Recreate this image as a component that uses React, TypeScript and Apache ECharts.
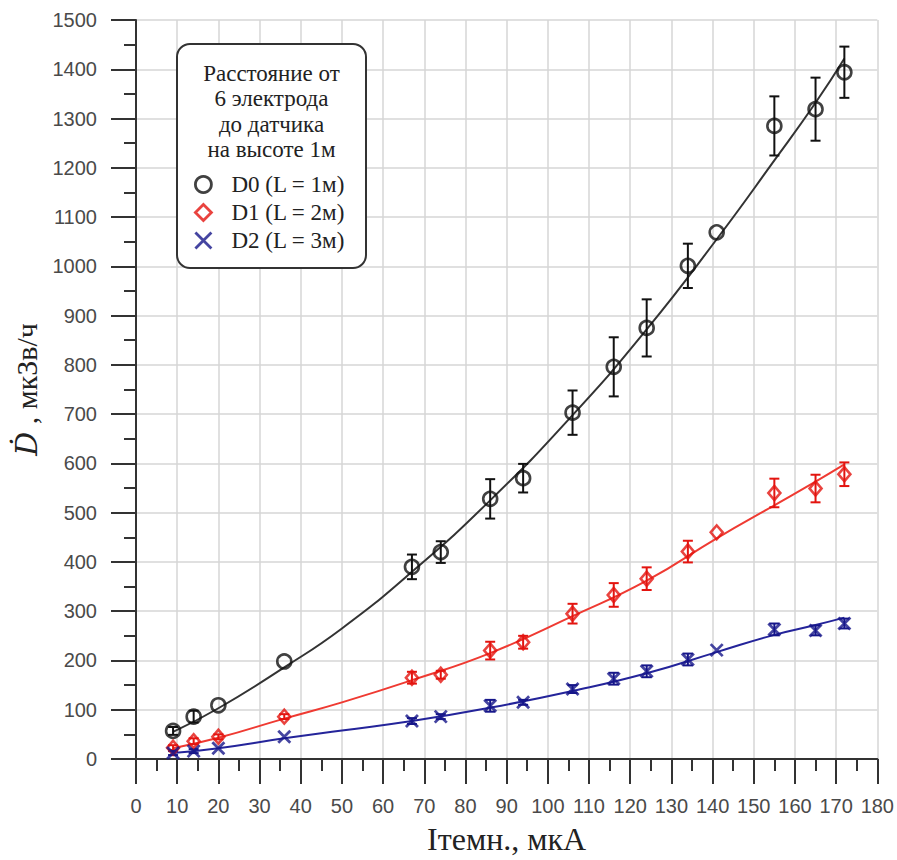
import React, { useEffect, useRef } from "react";
import * as echarts from "echarts";

// Measurement currents (x), мкА
const xValues = [9, 14, 20, 36, 67, 74, 86, 94, 106, 116, 124, 134, 141, 155, 165, 172];
// D0 (L = 1м)
const d0Values = [57, 86, 109, 198, 390, 420, 528, 570, 703, 796, 875, 1001, 1069, 1285, 1319, 1394];
const d0Errors = [8, 12, 0, 0, 25, 22, 40, 29, 45, 60, 58, 45, 0, 60, 64, 52];
// D1 (L = 2м)
const d1Values = [23, 36, 45, 86, 165, 171, 220, 237, 295, 333, 366, 421, 460, 540, 549, 578];
const d1Errors = [5, 6, 5, 5, 12, 8, 18, 13, 20, 24, 23, 22, 0, 29, 28, 24];
// D2 (L = 3м)
const d2Values = [12, 16, 22, 45, 77, 86, 108, 115, 142, 163, 178, 202, 221, 263, 261, 275];
const d2Errors = [4, 4, 0, 0, 6, 5, 12, 5, 8, 12, 12, 12, 0, 12, 10, 10];

// Fitted curves
const fitX = [9, 20, 36, 50, 67, 86, 106, 124, 141, 155, 165, 172];
const fit0 = [55, 103, 186, 265, 380, 525, 698, 872, 1055, 1215, 1332, 1422];
const fit1 = [22, 43, 82, 115, 160, 215, 290, 362, 448, 515, 563, 598];
const fit2 = [12, 22, 42, 58, 77, 104, 138, 174, 217, 252, 272, 287];

const seriesNames = ["D0 (L = 1м)", "D1 (L = 2м)", "D2 (L = 3м)"];
const legendTitle = ["Расстояние от", "6 электрода", "до датчика", "на высоте 1м"];
const xTitle = "Iтемн., мкА";

const BLACK = "#111111";
const RED = "#e3140f";
const BLUE = "#16168a";
const X_PATH = "path://M0,0L10,10M10,0L0,10";

function pairs(xs: number[], ys: number[]) {
  return xs.map((x, i) => [x, ys[i]]);
}
function errData(xs: number[], ys: number[], es: number[]) {
  const out: number[][] = [];
  xs.forEach((x, i) => {
    if (es[i] > 0) out.push([x, ys[i] - es[i], ys[i] + es[i]]);
  });
  return out;
}
function errSeries(data: number[][], color: string, name: string) {
  return {
    type: "custom",
    name,
    data,
    z: 4,
    silent: true,
    renderItem: (params: any, api: any) => {
      const x = api.value(0);
      const top = api.coord([x, api.value(2)]);
      const bot = api.coord([x, api.value(1)]);
      const hw = 5;
      const st = { stroke: color, lineWidth: 2 };
      return {
        type: "group",
        children: [
          { type: "line", shape: { x1: top[0], y1: top[1], x2: bot[0], y2: bot[1] }, style: st },
          { type: "line", shape: { x1: top[0] - hw, y1: top[1], x2: top[0] + hw, y2: top[1] }, style: st },
          { type: "line", shape: { x1: bot[0] - hw, y1: bot[1], x2: bot[0] + hw, y2: bot[1] }, style: st },
        ],
      };
    },
  };
}

export default function App() {
  const ref = useRef<HTMLDivElement>(null);
  useEffect(() => {
    if (!ref.current) return;
    const chart = echarts.init(ref.current, null, { renderer: "svg" });
    const labelFont = { fontFamily: "Liberation Sans, Arial, sans-serif", fontSize: 20, color: "#4a4a4a" };
    const axisLine = { show: true, lineStyle: { color: "#333", width: 2 } };
    const axisTick = { show: true, length: 25, lineStyle: { color: "#333", width: 2 } };
    const minorTick = { show: true, splitNumber: 2, length: 12, lineStyle: { color: "#333", width: 2 } };
    const splitLine = { show: true, lineStyle: { color: "#d6d6d6", width: 1.5 } };
    const plain = (v: number) => String(v);

    chart.setOption({
      animation: false,
      backgroundColor: "#ffffff",
      grid: { left: 136, top: 20, right: 19.5, bottom: 98.3, containLabel: false },
      xAxis: {
        type: "value",
        min: 0,
        max: 180,
        interval: 10,
        axisLine,
        axisTick,
        minorTick,
        splitLine,
        axisLabel: { ...labelFont, margin: 37, formatter: plain },
        name: xTitle,
        nameLocation: "middle",
        nameGap: 64,
        nameTextStyle: { fontFamily: "Liberation Serif, Times New Roman, serif", fontSize: 32, color: "#222" },
      },
      yAxis: {
        type: "value",
        min: 0,
        max: 1500,
        interval: 100,
        axisLine,
        axisTick,
        minorTick,
        splitLine,
        axisLabel: { ...labelFont, margin: 39, formatter: plain },
        name: "{d|Ḋ} , мкЗв/ч",
        nameLocation: "middle",
        nameRotate: 90,
        nameGap: 88,
        nameTextStyle: {
          fontFamily: "Liberation Serif, Times New Roman, serif",
          fontSize: 30,
          color: "#222",
          rich: {
            d: { fontFamily: "DejaVu Serif, serif", fontStyle: "italic", fontSize: 30, color: "#222" },
          },
        },
      },
      legend: {
        orient: "vertical",
        left: 194,
        top: 172,
        itemWidth: 16,
        itemHeight: 16,
        itemGap: 3,
        padding: 0,
        z: 10,
        selectedMode: false,
        textStyle: {
          fontFamily: "Liberation Serif, Times New Roman, serif",
          fontSize: 23,
          lineHeight: 25,
          color: "#222",
          padding: [0, 0, 0, 15],
        },
        data: [
          { name: seriesNames[0], icon: "circle", itemStyle: { color: "rgba(0,0,0,0)", borderColor: BLACK, borderWidth: 2.8 } },
          { name: seriesNames[1], icon: "diamond", itemStyle: { color: "rgba(0,0,0,0)", borderColor: RED, borderWidth: 2.8 } },
          { name: seriesNames[2], icon: X_PATH, itemStyle: { color: BLUE, borderColor: BLUE, borderWidth: 2.8 } },
        ],
      },
      graphic: [
        {
          type: "rect",
          z: 5,
          shape: { x: 177, y: 44, width: 189, height: 224, r: 13 },
          style: { fill: "#ffffff", stroke: "#333", lineWidth: 2 },
        },
        ...legendTitle.map((t, i) => ({
          type: "text",
          z: 10,
          x: 271.5,
          y: 73 + i * 25.5,
          style: {
            text: t,
            fill: "#222",
            font: "23px 'Liberation Serif', 'Times New Roman', serif",
            textAlign: "center",
            textVerticalAlign: "middle",
          },
        })),
      ],
      series: [
        { type: "line", name: "fit0", data: pairs(fitX, fit0), smooth: true, showSymbol: false, silent: true, z: 2, lineStyle: { color: "#333", width: 2 } },
        { type: "line", name: "fit1", data: pairs(fitX, fit1), smooth: true, showSymbol: false, silent: true, z: 2, lineStyle: { color: "#ef3a32", width: 2 } },
        { type: "line", name: "fit2", data: pairs(fitX, fit2), smooth: true, showSymbol: false, silent: true, z: 2, lineStyle: { color: "#24249a", width: 2 } },
        errSeries(errData(xValues, d0Values, d0Errors), BLACK, "err0"),
        errSeries(errData(xValues, d1Values, d1Errors), RED, "err1"),
        errSeries(errData(xValues, d2Values, d2Errors), BLUE, "err2"),
        {
          type: "scatter",
          name: seriesNames[0],
          data: pairs(xValues, d0Values),
          symbol: "circle",
          symbolSize: 14,
          z: 5,
          itemStyle: { color: "rgba(0,0,0,0)", borderColor: BLACK, borderWidth: 2.6 },
        },
        {
          type: "scatter",
          name: seriesNames[1],
          data: pairs(xValues, d1Values),
          symbol: "diamond",
          symbolSize: [12, 14],
          z: 5,
          itemStyle: { color: "rgba(0,0,0,0)", borderColor: RED, borderWidth: 2.6 },
        },
        {
          type: "scatter",
          name: seriesNames[2],
          data: pairs(xValues, d2Values),
          symbol: X_PATH,
          symbolSize: 12,
          z: 5,
          itemStyle: { color: BLUE, borderColor: BLUE, borderWidth: 2.8 },
        },
      ],
    });
    return () => chart.dispose();
  }, []);
  return (
    <div
      ref={ref}
      style={{ position: "absolute", left: 0, top: 0, width: 897, height: 860, background: "#fff" }}
    />
  );
}
